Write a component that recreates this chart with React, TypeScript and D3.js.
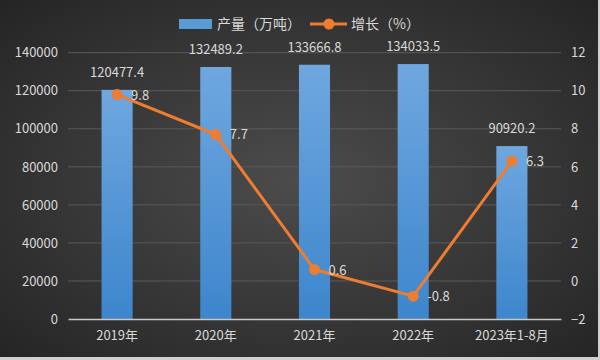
import React, { useRef, useEffect } from 'react';
import * as d3 from 'd3';

const categories = ['2019年', '2020年', '2021年', '2022年', '2023年1-8月'];
const output = [120477.4, 132489.2, 133666.8, 134033.5, 90920.2];
const growth = [9.8, 7.7, 0.6, -0.8, 6.3];
const leftTicks = [0, 20000, 40000, 60000, 80000, 100000, 120000, 140000];
const rightTicks = [-2, 0, 2, 4, 6, 8, 10, 12];

function App() {
  const chartRef = useRef<SVGSVGElement>(null);

  useEffect(() => {
    const svg = d3.select(chartRef.current);
    svg.selectAll('*').remove();

    const width = 600, height = 360;
    const font = '"Noto Sans CJK SC", "Noto Sans", sans-serif';
    const textColor = '#d9d9d9';

    const defs = svg.append('defs');
    const bg = defs.append('radialGradient').attr('id', 'bg')
      .attr('cx', '50%').attr('cy', '50%').attr('r', '70%');
    bg.append('stop').attr('offset', '0%').attr('stop-color', '#4c4c4c');
    bg.append('stop').attr('offset', '100%').attr('stop-color', '#252525');

    const barGrad = defs.append('linearGradient').attr('id', 'barGrad')
      .attr('x1', 0).attr('y1', 0).attr('x2', 0).attr('y2', 1);
    barGrad.append('stop').attr('offset', '0%').attr('stop-color', '#6fa7df');
    barGrad.append('stop').attr('offset', '100%').attr('stop-color', '#3d86cc');

    svg.append('rect').attr('width', width).attr('height', height).attr('fill', 'url(#bg)');
    svg.append('line').attr('x1', 0).attr('x2', width).attr('y1', height - 1.5).attr('y2', height - 1.5)
      .attr('stroke', '#d0d0d0').attr('stroke-width', 3);
    svg.append('line').attr('x1', width - 1).attr('x2', width - 1).attr('y1', 0).attr('y2', height)
      .attr('stroke', '#d0d0d0').attr('stroke-width', 2);

    const xScale = d3.scaleBand().domain(categories).range([68, 561]).paddingInner(0.685).paddingOuter(0.34);
    const yLeft = d3.scaleLinear().domain([0, 140000]).range([319, 52.7]);
    const yRight = d3.scaleLinear().domain([-2, 12]).range([319, 52.7]);

    // grid lines
    svg.append('g').selectAll('line').data(leftTicks.slice(1)).join('line')
      .attr('x1', 68).attr('x2', 561)
      .attr('y1', (d) => yLeft(d)).attr('y2', (d) => yLeft(d))
      .attr('stroke', '#5a5a5a').attr('stroke-width', 1);

    // left axis
    const axL = svg.append('g').attr('transform', 'translate(68,0)')
      .call(d3.axisLeft(yLeft).tickValues(leftTicks).tickSize(0).tickPadding(10).tickFormat(d3.format('d')));
    axL.select('.domain').remove();
    axL.selectAll('text').attr('fill', textColor).style('font-family', font).style('font-size', '13px');

    // right axis
    const axR = svg.append('g').attr('transform', 'translate(561,0)')
      .call(d3.axisRight(yRight).tickValues(rightTicks).tickSize(0).tickPadding(10));
    axR.select('.domain').remove();
    axR.selectAll('text').attr('fill', textColor).style('font-family', font).style('font-size', '13px');

    // bars
    svg.append('g').selectAll('rect').data(output).join('rect')
      .attr('x', (d, i) => xScale(categories[i]))
      .attr('y', (d) => yLeft(d))
      .attr('width', xScale.bandwidth())
      .attr('height', (d) => yLeft(0) - yLeft(d))
      .attr('fill', 'url(#barGrad)');

    svg.append('g').selectAll('text').data(output).join('text')
      .attr('x', (d, i) => xScale(categories[i]) + xScale.bandwidth() / 2)
      .attr('y', (d) => yLeft(d) - 13)
      .attr('text-anchor', 'middle')
      .attr('fill', textColor)
      .style('font-family', font).style('font-size', '13px')
      .text((d) => d.toFixed(1));

    // baseline
    const xAxis = svg.append('g').attr('transform', 'translate(0,319)')
      .call(d3.axisBottom(xScale).tickSize(0).tickPadding(12));
    xAxis.select('.domain').attr('stroke', '#c8c8c8').attr('stroke-width', 1.5);
    xAxis.selectAll('text').attr('fill', textColor).style('font-family', font).style('font-size', '13px');

    // growth line
    const cx = (i: number) => xScale(categories[i]) + xScale.bandwidth() / 2;
    const line = d3.line<number>().x((d, i) => cx(i)).y((d) => yRight(d));
    svg.append('path').datum(growth)
      .attr('fill', 'none').attr('stroke', '#ee7d31').attr('stroke-width', 3)
      .attr('stroke-linejoin', 'round').attr('d', line);
    svg.append('g').selectAll('circle').data(growth).join('circle')
      .attr('cx', (d, i) => cx(i)).attr('cy', (d) => yRight(d)).attr('r', 5.5)
      .attr('fill', '#ee7d31');
    svg.append('g').selectAll('text').data(growth).join('text')
      .attr('x', (d, i) => cx(i) + 14)
      .attr('y', (d) => yRight(d) + 5)
      .attr('fill', textColor)
      .style('font-family', font).style('font-size', '13px')
      .text((d) => d.toFixed(1));

    // legend
    const legend = svg.append('g').style('font-family', font).style('font-size', '14px');
    legend.append('rect').attr('x', 179).attr('y', 19).attr('width', 33).attr('height', 10).attr('fill', '#5b9bd5');
    legend.append('text').attr('x', 217).attr('y', 29).attr('fill', textColor).text('产量（万吨）');
    legend.append('line').attr('x1', 310).attr('x2', 347).attr('y1', 24).attr('y2', 24)
      .attr('stroke', '#ee7d31').attr('stroke-width', 3);
    legend.append('circle').attr('cx', 329).attr('cy', 24).attr('r', 5.5).attr('fill', '#ee7d31');
    legend.append('text').attr('x', 351).attr('y', 29).attr('fill', textColor).text('增长（%）');
  }, []);

  return <svg ref={chartRef} width={600} height={360} style={{ position: 'absolute', left: 0, top: 0 }}></svg>;
}

export default App;
